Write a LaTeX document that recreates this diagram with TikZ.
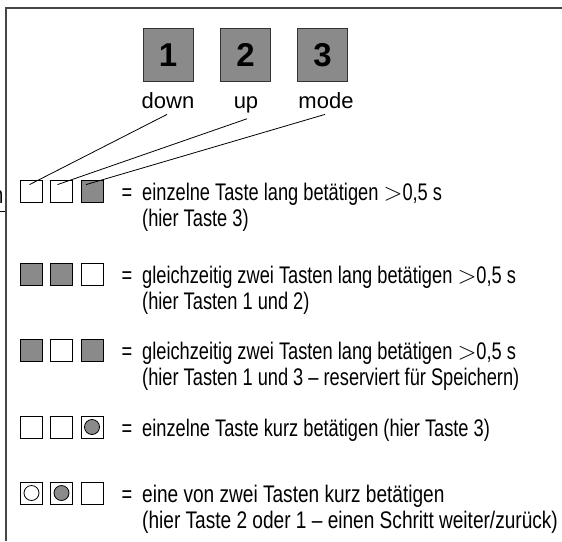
\documentclass[tikz,border=0pt]{standalone}
\usepackage{fontspec}
\setmainfont{Liberation Sans}
\newfontfamily\cond[FakeStretch=0.76]{Liberation Sans}
\newfontfamily\condw[FakeStretch=0.795]{Liberation Sans}
\definecolor{keygray}{RGB}{138,138,138}
\definecolor{framegray}{RGB}{70,70,70}
\begin{document}
\begin{tikzpicture}[x=1pt,y=-1pt,
  key/.style={draw=black!80, line width=0.9pt, fill=keygray, minimum width=50pt, minimum height=53pt, inner sep=0pt, font=\fontsize{33}{33}\selectfont\bfseries},
  keylabel/.style={font=\fontsize{22}{22}\selectfont, inner sep=0pt, anchor=base},
  sq/.style={draw=black, line width=0.8pt, minimum size=22pt, inner sep=0pt, fill=white},
  sqg/.style={sq, fill=keygray},
  dot/.style={draw=black, line width=0.8pt, circle, minimum size=15pt, inner sep=0pt},
  eq/.style={font=\cond\fontsize{24}{25}\selectfont, inner sep=0pt, anchor=base},
  desc/.style={font=\cond\fontsize{24}{25}\selectfont, inner sep=0pt, anchor=base west},
  descw/.style={desc, font=\condw\fontsize{24}{25}\selectfont},
  conn/.style={line width=0.8pt}]
\useasboundingbox (0,0) rectangle (562,541);
% frame
\draw[framegray, line width=2pt] (6,541) -- (6,8) -- (562,8);
% cut-off fragment at the left edge
\node[font=\cond\fontsize{24}{25}\selectfont, inner sep=0pt, anchor=base east] (frag) at (3.5,203) {n};
\coordinate (fragA) at (0,211);
\coordinate (fragB) at (5,211);
\draw[line width=0.8pt] (fragA) -- (fragB);
% keys
\node[key] (k1) at (168,55) {1};
\node[key] (k2) at (245.5,55) {2};
\node[key] (k3) at (322.5,55) {3};
\node[keylabel] (down) at (168,108) {down};
\node[keylabel] (up) at (246,108) {up};
\node[keylabel] (mode) at (326,108) {mode};
% row 1
\node[sq] (a1) at (31.5,191) {};
\node[sq] (a2) at (61.5,191) {};
\node[sqg] (a3) at (92,191) {};
\draw[conn] ([xshift=-1pt,yshift=-6pt]down.south) -- ([xshift=-2pt,yshift=-5pt]a1.north);
\draw[conn] ([xshift=1pt,yshift=-6pt]up.south) -- ([xshift=-4pt,yshift=-5pt]a2.north);
\draw[conn] ([xshift=-1pt,yshift=-6pt]mode.south) -- ([xshift=-6pt,yshift=-5pt]a3.north);
\node[eq] (e1) at (127,200) {=};
\node[desc] (t1) at (142,200) {einzelne Taste lang betätigen $>$0,5 s};
\node[desc] (t1b) at (142,226) {(hier Taste 3)};
% row 2
\node[sqg] (b1) at (31.5,274) {};
\node[sqg] (b2) at (61.5,274) {};
\node[sq] (b3) at (92,274) {};
\node[eq] (e2) at (127,283) {=};
\node[desc] (t2) at (142,283) {gleichzeitig zwei Tasten lang betätigen $>$0,5 s};
\node[desc] (t2b) at (142,309) {(hier Tasten 1 und 2)};
% row 3
\node[sqg] (c1) at (31.5,350) {};
\node[sq] (c2) at (61.5,350) {};
\node[sqg] (c3) at (92,350) {};
\node[eq] (e3) at (127,359) {=};
\node[desc] (t3) at (142,359) {gleichzeitig zwei Tasten lang betätigen $>$0,5 s};
\node[desc] (t3b) at (142,385) {(hier Tasten 1 und 3 – reserviert für Speichern)};
% row 4
\node[sq] (d1) at (31.5,427) {};
\node[sq] (d2) at (61.5,427) {};
\node[sq] (d3) at (92,427) {};
\node[dot, fill=keygray] (d3c) at (d3) {};
\node[eq] (e4) at (127,436) {=};
\node[desc] (t4) at (142,436) {einzelne Taste kurz betätigen (hier Taste 3)};
% row 5
\node[sq] (f1) at (31.5,493) {};
\node[sq] (f2) at (61.5,493) {};
\node[sq] (f3) at (92,493) {};
\node[dot, fill=white] (f1c) at (f1) {};
\node[dot, fill=keygray] (f2c) at (f2) {};
\node[eq] (e5) at (127,502) {=};
\node[descw] (t5) at (142,502) {eine von zwei Tasten kurz betätigen};
\node[descw] (t5b) at (142,528) {(hier Taste 2 oder 1 – einen Schritt weiter/zurück)};
\end{tikzpicture}
\end{document}
